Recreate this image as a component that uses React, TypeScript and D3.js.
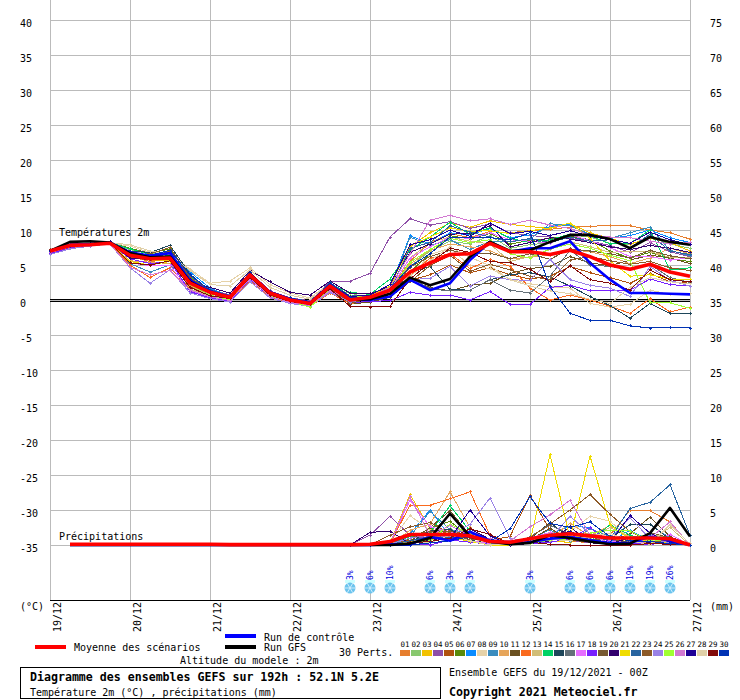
import React from "react";
import * as d3 from "d3";

const dayLabels = ["19/12","20/12","21/12","22/12","23/12","24/12","25/12","26/12","27/12"];
const leftTicks = [40,35,30,25,20,15,10,5,0,-5,-10,-15,-20,-25,-30,-35];
const rightTicks = [75,70,65,60,55,50,45,40,35,30,25,20,15,10,5,0];
const memberColors = ["#e67e2e","#88c86e","#f2c200","#8e4fa8","#b0520f","#5a8a0a","#0a8cff","#e6d2a8","#3a8cbe","#e6a55a","#6a5020","#fa6a1e","#d2be78","#00d264","#1e465a","#647078","#e66eff","#7820ff","#785a32","#32006e","#f0dc00","#2864a0","#8c5a28","#9a82e6","#a0ff32","#d278d2","#1e0096","#e0d0a8","#820a0a","#0032b4"];

const meanT = [7,7.8,7.9,8.1,6.4,5.9,6.0,2.4,1.1,0.4,3.6,1.0,0,-0.5,2,0,0.4,1.4,4,5.3,6.5,6.6,8.1,6.9,6.9,6.5,7.1,6.2,5,4.4,5.1,4,3.4];
const gfsT = [7.0,8.3,8.4,8.2,6.7,6.1,6.2,2.6,1.1,0.4,3.7,1.0,0,-0.5,2,0,0.1,0.9,3.2,2.1,3,6.2,8.3,7,7.1,8.3,9.3,9.3,8.7,7.4,9,8.3,7.9];
const ctlT = [7.0,7.9,8.0,8.2,6.8,6.3,6.7,2.8,1.2,0.5,3.7,1.1,0.1,-0.4,2.1,0.1,0,0.5,2.9,1.4,2.4,5.7,8.3,6.9,7.4,7.4,8.4,5.3,2.9,1,1,0.9,0.8];

const t01 = [6.9,7.7,7.9,8.2,6.2,5.5,5.8,2.2,1.0,0.3,3.3,0.8,-0.2,-0.7,1.8,-0.2,0.3,1.5,5.5,8.2,9.5,8.9,9.8,9.6,9.9,10.1,10.4,10.5,10.7,10.6,10.0,9.6,8.7];
const t02 = [6.8,7.5,7.7,8.1,7.2,6.6,6.8,3.2,1.4,0.5,3.7,1.1,0.1,-0.9,1.6,1.0,0.2,1.2,4.8,7.0,8.4,8.0,9.2,7.4,7.9,8.2,9.3,9.0,8.1,7.9,9.0,8.0,7.4];
const t03 = [7.0,7.8,8.0,8.1,6.7,5.7,5.6,2.0,0.7,0.1,3.2,0.9,-0.1,-0.6,1.9,0.4,0.6,2.0,7.6,9.6,11.0,10.4,11.3,10.8,10.5,10.2,10.9,9.6,8.8,8.0,8.8,8.2,7.0];
const t04 = [7.2,7.9,8.1,8.2,6.8,6.4,6.7,3.0,1.6,0.7,3.9,1.3,0.3,-0.1,2.6,2.7,3.8,9.0,11.6,10.7,11.2,10.2,10.9,9.6,9.2,9.0,8.8,8.4,7.8,6.8,8.2,6.9,6.2];
const t05 = [7.1,7.8,7.9,8.0,6.1,5.7,6.3,1.9,0.6,0.3,3.0,0.6,-0.3,-0.8,1.4,-0.3,0.2,0.9,2.8,3.6,5.0,3.9,4.6,3.6,3.0,3.4,4.8,3.9,3.2,2.4,3.8,2.6,2.4];
const t06 = [7.0,7.9,8.0,8.3,7.4,6.7,7.3,3.5,1.3,0.6,3.8,1.0,0.2,-0.4,2.1,0.2,0.2,1.0,4.0,6.6,9.2,8.7,9.5,8.0,8.5,8.8,9.1,8.6,7.0,6.0,6.8,5.9,5.5];
const t07 = [6.9,7.8,8.0,8.2,6.5,6.1,6.3,4.0,1.7,0.5,4.0,1.2,0.2,-0.3,2.2,0.4,0.5,1.7,9.2,8.0,9.6,9.3,10.2,8.9,9.3,10.5,10.8,9.2,8.8,9.2,10.0,8.9,8.2];
const t08 = [7.1,7.7,7.9,8.1,7.7,6.8,6.6,4.4,2.4,2.7,4.6,2.2,1.0,0.3,2.4,0.5,0.1,0.8,3.2,6.5,7.4,4.9,4.5,3.0,2.3,1.9,1.7,-0.5,-1.0,-0.6,1.4,0.8,1.0];
const t09 = [7.0,7.6,7.8,8.0,5.2,4.0,5.0,2.6,1.2,0.3,3.6,0.9,-0.2,-0.8,1.7,0.0,0.3,1.4,9.0,7.8,8.6,7.2,8.4,8.3,8.7,10.9,10.6,9.4,8.8,9.6,10.4,7.1,6.3];
const t10 = [6.7,7.4,7.8,8.0,5.6,5.4,5.2,2.1,0.6,0.1,3.1,0.7,-0.2,-0.6,1.3,0.3,0.4,1.4,5.1,7.1,8.0,7.6,7.0,5.9,6.1,6.4,7.2,6.9,6.2,5.2,6.0,7.4,6.6];
const t11 = [7.2,8.0,8.1,8.3,6.9,6.2,6.9,3.1,1.1,0.4,3.5,0.9,0,-0.3,1.9,-0.6,-0.3,0.4,2.7,1.8,1.3,2.1,2.4,3.8,4.5,4.8,6.2,5.3,4.9,5.7,6.4,6.0,5.2];
const t12 = [6.8,7.6,7.8,8.1,5.0,3.2,4.6,1.6,0.3,-0.1,2.8,0.5,-0.5,-0.9,1.0,-0.5,-0.1,0.9,3.5,6.0,6.6,4.5,5.8,4.8,1.7,0,0.7,0,-0.9,-1.9,0.2,-1.7,-1.0];
const t13 = [6.9,7.7,8.0,8.2,6.6,6.0,6.2,1.6,0.5,0.2,3.3,0.7,-0.3,-0.7,1.6,0.1,0.3,1.5,6.0,8.2,9.0,8.4,8.0,5.5,6.2,7.2,8.3,7.6,6.8,7.0,6.9,6.1,6.0];
const t14 = [7.1,7.9,8.1,8.2,7.3,6.5,6.4,3.3,1.0,0.2,3.6,1.2,-0.1,-0.5,2.2,1.1,0.8,3.0,7.1,9.0,11.1,9.4,10.3,8.8,8.2,8.6,9.4,9.2,8.0,8.1,10.0,4.3,4.6];
const t15 = [7.0,7.8,7.9,8.1,7.0,6.8,7.8,3.7,1.2,0.5,3.9,1.1,0.2,-0.4,2.0,-0.1,0.0,0.8,3.9,4.8,1.5,1.4,2.9,3.6,3.9,3.3,2.0,0.5,-0.8,-2.6,-0.5,-1.9,-1.9];
const t16 = [6.9,7.7,7.9,8.0,6.3,5.8,6.0,2.5,0.9,0.2,3.4,0.8,-0.1,-0.6,1.5,-0.2,0.1,0.9,3.2,1.6,1.3,1.4,2.9,1.4,1.0,3.4,7.1,5.0,4.8,4.4,5.1,3.2,2.5];
const t17 = [7.0,7.8,8.0,8.1,5.3,4.9,4.9,1.3,0.4,0.0,2.9,0.6,-0.4,-0.8,1.2,0.1,0.4,1.6,6.0,7.6,9.0,8.8,9.6,8.6,8.4,8.1,9.3,8.5,7.5,6.2,6.2,5.7,6.0];
const t18 = [6.6,7.5,7.8,8.1,5.9,5.2,5.5,1.2,0.3,-0.2,3.0,0.5,-0.3,-0.7,1.5,-0.4,-0.2,-0.1,1.1,0.7,0.7,0.0,1.2,-0.6,-0.6,1.8,2.1,1.3,1.3,1.4,3.0,2.2,2.0];
const t19 = [7.2,7.9,8.0,8.2,6.7,6.1,7.0,2.8,0.9,0.4,3.7,1.0,0.1,-0.4,1.8,-0.5,0.2,1.0,4.7,6.2,7.1,6.6,6.7,5.9,6.6,5.8,7.3,7.0,6.6,6.0,7.1,6.3,5.9];
const t20 = [7.1,7.9,8.0,8.2,6.0,5.8,6.2,2.3,1.8,1.0,4.2,2.6,1.1,0.7,2.7,1.0,0.9,1.9,6.8,8.0,9.4,9.5,10.6,7.6,8.2,8.9,8.7,8.2,7.6,7.2,7.8,7.4,6.8];
const t21 = [7.0,7.8,8.0,8.1,5.5,5.0,5.5,2.7,0.9,0.3,3.4,0.8,0,-0.6,1.7,0.1,0.5,1.9,7.8,9.0,10.3,9.8,9.9,9.5,9.9,10.3,11.0,8.8,5.6,3.4,3.6,3.0,2.9];
const t22 = [7.1,7.8,8.0,8.2,6.8,6.3,6.5,3.4,1.5,0.6,3.8,1.1,0.3,-0.2,2.5,0.6,0.6,1.4,7.4,8.2,10.6,9.7,9.0,8.3,8.8,8.2,9.0,8.4,8.6,7.4,9.4,7.0,6.5];
const t23 = [6.9,7.7,7.9,8.1,6.4,6.6,7.5,3.2,1.3,0.4,3.5,0.9,0,-0.5,1.4,-0.2,0.1,0.9,2.6,4.9,6.4,4.1,5.1,4.3,3.4,2.9,5.7,6.2,5.6,5.1,5.5,4.6,4.2];
const t24 = [6.5,7.3,7.7,8.0,4.6,2.4,4.3,1.0,0.2,-0.3,2.6,0.3,-0.5,-0.9,1.1,-0.3,0.2,0.9,2.9,3.1,4.8,2.0,3.4,2.9,2.8,5.8,2.9,2.1,1.7,0.5,4.8,2.8,2.0];
const t25 = [7.0,7.7,7.9,8.1,6.5,5.9,5.9,2.2,0.7,0.0,3.2,0.6,-0.2,-1.0,1.5,0.6,0.3,1.2,5.4,7.2,8.8,8.2,8.6,6.6,6.0,7.3,8.0,7.4,6.4,5.6,-0.4,-0.4,-1.2];
const t26 = [6.8,7.6,7.8,8.0,4.7,3.6,4.2,1.4,0.5,-0.1,3.1,0.5,-0.3,-0.7,1.3,0.2,0.5,1.8,6.6,11.4,12.1,11.3,11.6,10.8,11.4,10.7,10.2,9.3,9.0,8.9,8.4,8.0,8.2];
const t27 = [7.1,7.9,8.1,8.3,6.6,6.2,6.6,2.9,1.2,0.5,3.7,1.0,0.2,-0.2,2.3,0.5,0.7,2.2,7.9,8.6,10.0,9.1,11.0,9.5,9.8,9.2,9.9,9.1,8.6,8.1,9.7,8.6,7.9];
const t28 = [7.0,7.8,8.0,8.2,7.9,7.0,6.5,4.2,2.2,2.0,4.3,1.8,0.7,0.1,2.2,0.3,0.2,1.0,3.4,5.6,7.6,6.1,4.9,2.9,2.0,1.3,0.9,0.1,-0.5,1.8,3.2,2.6,2.3];
const t29 = [7.0,7.8,7.9,8.1,5.3,5.0,5.6,1.8,0.6,0.2,3.2,0.7,-0.2,-0.6,1.6,-0.9,-1.0,-0.9,3.0,5.3,7.4,6.8,5.5,5.3,4.4,2.6,4.9,2.9,2.4,1.4,4.3,2.9,2.6];
const t30 = [6.9,7.7,7.9,8.2,6.9,6.4,7.1,3.6,1.4,0.5,3.9,1.2,0.3,-0.3,2.4,0.3,0.4,1.6,4.8,6.6,9.0,9.0,8.9,8.6,9.6,1.9,-1.9,-2.9,-2.9,-3.7,-4.0,-3.9,-4.0];
const memberT = [t01,t02,t03,t04,t05,t06,t07,t08,t09,t10,t11,t12,t13,t14,t15,t16,t17,t18,t19,t20,t21,t22,t23,t24,t25,t26,t27,t28,t29,t30];

const meanP = [0.1,0.1,0.1,0.1,0.1,0.1,0.1,0.1,0.1,0.05,0.05,0.05,0.05,0.05,0.05,0.05,0.1,0.5,1.5,1.5,1.5,1.3,0.5,0.4,0.9,1.4,1.6,1.3,1.0,1.0,1.0,0.9,0];
const gfsP = [0,0,0,0,0,0,0,0,0,0,0,0,0,0,0,0,0,0,0.2,1.0,4.5,1.2,0.5,0.1,0.3,1.4,1.0,0.5,0.1,0.2,1.7,5.3,1.2];
const ctlP = [0,0,0,0,0,0,0,0,0,0,0,0,0,0,0,0,0,0.1,0.1,1.2,0.6,1.9,0.6,0.2,0.4,0.9,1.1,0.7,0.2,0.3,1.2,0.6,0];
const p01 = [0,0,0.1,1.0,1.5,0.8,1.4,0.3,0.1,0.2,1.0,0.6,0.3,1.4,5.0,4.9,3.3,0];
const p02 = [0,0,0.2,1.6,1.2,2.3,1.0,0.4,0.1,0.4,1.7,0.8,1.2,0.7,1.1,1.5,1.0,0];
const p03 = [0,0,0.3,7.2,2.4,0.9,0.7,0.2,0,0.3,0.5,0.4,1.6,1.0,0.4,0.8,0.6,0];
const p04 = [0,1.4,4.1,1.4,0.8,1.3,0.6,0.3,0.1,0.4,0.9,0.7,0.3,0.5,0.9,0.4,0.3,0];
const p05 = [0,0,0.1,0.7,1.0,2.1,1.3,0.7,1.2,7.1,2.1,1.0,0.4,0.3,1.0,0.7,0.4,0];
const p06 = [0,0,0.2,0.9,2.4,3.4,1.1,0.4,0.1,0.5,1.0,1.9,0.7,1.3,0.5,0.8,0.5,0];
const p07 = [0,0,0.1,1.6,5.0,1.2,0.6,0.3,0.1,0.3,1.5,2.7,2.5,0.5,2.1,0.6,0.2,0];
const p08 = [0,0,0.4,4.2,2.1,1.8,1.0,0.2,0,0.6,0.5,1.9,4.1,3.4,0.9,0.3,0.1,0];
const p09 = [0,0,0.2,1.2,4.8,2.2,1.7,0.6,0.1,0.8,2.2,0.5,2.3,1.2,2.9,2.9,1.0,0];
const p10 = [0,0,0,2.1,3.0,7.6,2.5,0.4,0,0.2,0.9,3.1,1.3,2.8,0.8,0.2,1.2,0];
const p11 = [0,0,0.1,0.5,2.5,4.9,1.4,0.6,0.4,0.7,2.4,0.7,0.4,0.6,1.6,4.0,1.2,0];
const p12 = [0,0,0.2,5.7,5.7,6.6,7.6,1.4,0.1,0.3,0.7,1.2,0.4,0.2,0.4,0.5,0.3,0];
const p13 = [0,0,0.1,0.6,1.1,0.7,0.4,0.2,0,0.6,1.8,1.3,1.0,2.5,1.2,0.6,2.5,0];
const p14 = [0,0,0.3,1.2,1.8,5.6,2.0,0.3,0.1,0.2,1.3,0.9,0.5,2.9,1.4,0.7,0.5,0];
const p15 = [0,0,0.1,0.4,2.0,2.2,0.7,0.2,0.1,0.9,3.2,1.0,0.6,0.9,2.9,3.0,0.8,0];
const p16 = [0,0,0.1,0.3,0.7,1.6,0.5,0.1,0,1.2,2.8,1.6,0.7,0.4,0.6,1.1,0.4,0];
const p17 = [0,0,0.2,6.4,2.6,1.9,0.6,0.2,0.3,1.0,1.8,1.2,1.3,0.6,0.3,0.5,1.5,0];
const p18 = [0,0,0,0.2,0,0.7,0.4,0.1,0,0.2,0.4,0.9,2.5,0.3,0.2,0.1,0.3,0];
const p19 = [0,0,0.3,1.3,2.0,2.0,1.0,0.5,0.2,0.3,0.9,1.2,0.8,0.9,0.3,1.8,1.0,0];
const p20 = [0,1.8,2.0,0.2,0.7,1.0,2.3,0.8,0,0.2,0.6,2.6,0.3,0.2,1.0,0.3,0.2,0];
const p21 = [0,0,0.1,0.4,0.8,1.1,0.5,0,0,0.5,12.9,1.0,12.7,2.9,0.8,0.5,0.3,0];
const p22 = [0,0,0.1,0.6,1.2,1.0,1.5,0.3,0.1,0.4,1.0,1.6,0.5,0.9,5.2,6.1,8.6,1.4];
const p23 = [0,0,1.4,2.6,3.2,1.7,0.7,0.9,0.4,1.1,3.0,5.0,7.2,4.4,1.9,0.5,0.6,0];
const p24 = [0,0,0.1,1.0,1.4,1.2,3.0,6.7,1.0,0.4,0.9,4.1,1.6,1.0,3.9,0.9,0.3,0];
const p25 = [0,0,0.1,0.3,0.6,3.0,1.5,0.4,0.1,0.2,0.7,0.9,1.7,2.1,2.0,0.6,0.8,0];
const p26 = [0,0,0.2,6.9,1.3,2.8,1.3,0.9,0.6,2.6,4.3,6.4,1.4,0.3,0.2,1.0,3.3,0];
const p27 = [0,0,0.1,0.2,1.0,0.9,5.0,1.3,0,0.5,1.0,2.0,0.6,0.4,4.2,1.7,0.4,0];
const p28 = [0,0,0,0.4,0.3,1.4,0.6,0,0.1,0.3,0.8,0.6,1.3,1.7,0.5,0.1,2.9,0.2];
const p29 = [0,0,0.2,0.3,0.5,1.0,2.3,1.5,0.2,0.4,0.1,0,0,0,0,0.2,0.1,0];
const p30 = [0,0,0,0,0.3,0.6,1.2,0.5,2.3,6.9,3.1,2.5,3.3,1.2,0.6,0.5,0.2,0];
const memberP = [p01,p02,p03,p04,p05,p06,p07,p08,p09,p10,p11,p12,p13,p14,p15,p16,p17,p18,p19,p20,p21,p22,p23,p24,p25,p26,p27,p28,p29,p30];
const precipFirstStep = 15;

const snowSteps = [15,16,17,19,20,21,24,26,27,28,29,30,31];
const snowPct = ["3%","6%","10%","6%","3%","3%","3%","6%","6%","6%","19%","19%","26%"];

const W = 740, H = 700;
const x = d3.scaleLinear().domain([0, 32]).range([50, 690]);
const y = d3.scaleLinear().domain([40, -35]).range([20, 545]);
const yP = d3.scaleLinear().domain([0, 75]).range([545, 20]);
const mono = "'DejaVu Sans Mono', monospace";

const lineT = d3.line<number>().x((_, i) => x(i)).y(d => y(d));
const lineP = (start: number) => d3.line<number>().x((_, i) => x(i + start)).y(d => yP(d));

function Member({ vals, start, color, scale }: { vals: number[]; start: number; color: string; scale: any }) {
  const gen = d3.line<number>().x((_, i) => x(i + start)).y(d => scale(d));
  return (
    <g>
      <path d={gen(vals) ?? ""} fill="none" stroke={color} strokeWidth={1} />
      <path
        d={vals.map((v, i) => `M${x(i + start) - 1.5},${scale(v)}h3M${x(i + start)},${scale(v) - 1.5}v3`).join("")}
        fill="none" stroke={color} strokeWidth={1}
      />
    </g>
  );
}

function T({ x: tx, y: ty, children, bold, size = 10, fill = "#000" }: any) {
  return <text x={tx} y={ty} fontFamily={mono} fontSize={size} fontWeight={bold ? 700 : 400} fill={fill}>{children}</text>;
}

export default function App() {
  const dayX = d3.range(0, 33, 4);
  const snowR = 5.5;
  return (
    <svg width={W} height={H} viewBox={`0 0 ${W} ${H}`}
      style={{ position: "absolute", left: 0, top: 0, display: "block", background: "#fff" }}>
      <g shapeRendering="crispEdges">
        {leftTicks.map(t => (
          <line key={t} x1={x(0)} x2={x(32)} y1={y(t)} y2={y(t)} stroke="#bbb" strokeWidth={1} />
        ))}
        {dayX.map(d => (
          <line key={d} x1={x(d)} x2={x(d)} y1={0} y2={600} stroke="#bbb" strokeWidth={1} />
        ))}
        <line x1={x(0)} x2={x(32)} y1={y(0) - 1} y2={y(0) - 1} stroke="#000" />
        <line x1={x(0)} x2={x(32)} y1={y(0) + 1} y2={y(0) + 1} stroke="#000" />
        <line x1={x(0)} x2={x(32)} y1={600} y2={600} stroke="#000" />
      </g>

      {leftTicks.map(t => <T key={t} x={20} y={y(t) + 7}>{t}</T>)}
      {rightTicks.map((t, i) => <T key={t} x={710} y={y(leftTicks[i]) + 7}>{t}</T>)}

      <T x={59} y={236}>Températures 2m</T>
      <T x={59} y={540}>Précipitations</T>

      <g shapeRendering="crispEdges">
        {memberT.map((v, i) => <Member key={i} vals={v} start={0} color={memberColors[i]} scale={y} />)}
        {memberP.map((v, i) => <Member key={i} vals={v} start={precipFirstStep} color={memberColors[i]} scale={yP} />)}
      </g>

      <g fill="none" strokeLinejoin="round">
        <path d={lineT(ctlT) ?? ""} stroke="#0000ff" strokeWidth={2.6} />
        <path d={lineT(gfsT) ?? ""} stroke="#000" strokeWidth={2.6} />
        <path d={lineT(meanT) ?? ""} stroke="#ff0000" strokeWidth={3.6} />
        <path d={lineP(1)(ctlP.slice(1)) ?? ""} stroke="#0000ff" strokeWidth={2.6} />
        <path d={lineP(1)(gfsP.slice(1)) ?? ""} stroke="#000" strokeWidth={2.6} />
        <path d={lineP(1)(meanP.slice(1)) ?? ""} stroke="#ff0000" strokeWidth={3.6} />
      </g>

      {snowSteps.map((s, i) => {
        const cx = x(s), cy = 588;
        return (
          <g key={s}>
            <rect x={cx - 5} y={580} width={10} height={3} fill="#ccffff" />
            <circle cx={cx} cy={cy} r={snowR} fill="#6cc4ee" />
            {[0, 60, 120].map(a => (
              <line key={a} x1={cx - snowR * Math.cos(a * Math.PI / 180)} y1={cy - snowR * Math.sin(a * Math.PI / 180)}
                x2={cx + snowR * Math.cos(a * Math.PI / 180)} y2={cy + snowR * Math.sin(a * Math.PI / 180)}
                stroke="#e6f6ff" strokeWidth={0.8} />
            ))}
            <text transform={`translate(${cx + 2.5},580) rotate(-90)`} fontFamily={mono} fontSize={8} fill="#0000e0">{snowPct[i]}</text>
          </g>
        );
      })}

      {dayLabels.map((d, i) => (
        <text key={d} transform={`translate(${x(i * 4) + 11},602) rotate(-90)`} textAnchor="end"
          fontFamily={mono} fontSize={10}>{d}</text>
      ))}
      <T x={20} y={610}>(°C)</T>
      <T x={710} y={610}>(mm)</T>

      <g shapeRendering="crispEdges">
        <line x1={35} x2={66} y1={647} y2={647} stroke="#ff0000" strokeWidth={4} />
        <line x1={225} x2={256} y1={636} y2={636} stroke="#0000ff" strokeWidth={4} />
        <line x1={225} x2={256} y1={647} y2={647} stroke="#000" strokeWidth={4} />
        {memberColors.map((c, i) => (
          <rect key={i} x={400 + i * 11} y={650} width={10} height={6} fill={c} />
        ))}
        <rect x={20.5} y={667.5} width={420} height={31} fill="none" stroke="#000" />
      </g>
      <T x={74} y={651}>Moyenne des scénarios</T>
      <T x={264} y={641}>Run de contrôle</T>
      <T x={264} y={651}>Run GFS</T>
      <T x={180} y={664}>Altitude du modele : 2m</T>
      <T x={339} y={656}>30 Perts.</T>
      {memberColors.map((_, i) => (
        <T key={i} x={400.5 + i * 11} y={647} size={7.5}>{String(i + 1).padStart(2, "0")}</T>
      ))}
      <T x={30} y={681} bold size={11.6}>Diagramme des ensembles GEFS sur 192h : 52.1N 5.2E</T>
      <T x={30} y={696}>Température 2m (°C) , précipitations (mm)</T>
      <T x={449} y={676}>Ensemble GEFS du 19/12/2021 - 00Z</T>
      <T x={449} y={696} bold size={11.6}>Copyright 2021 Meteociel.fr</T>
    </svg>
  );
}
